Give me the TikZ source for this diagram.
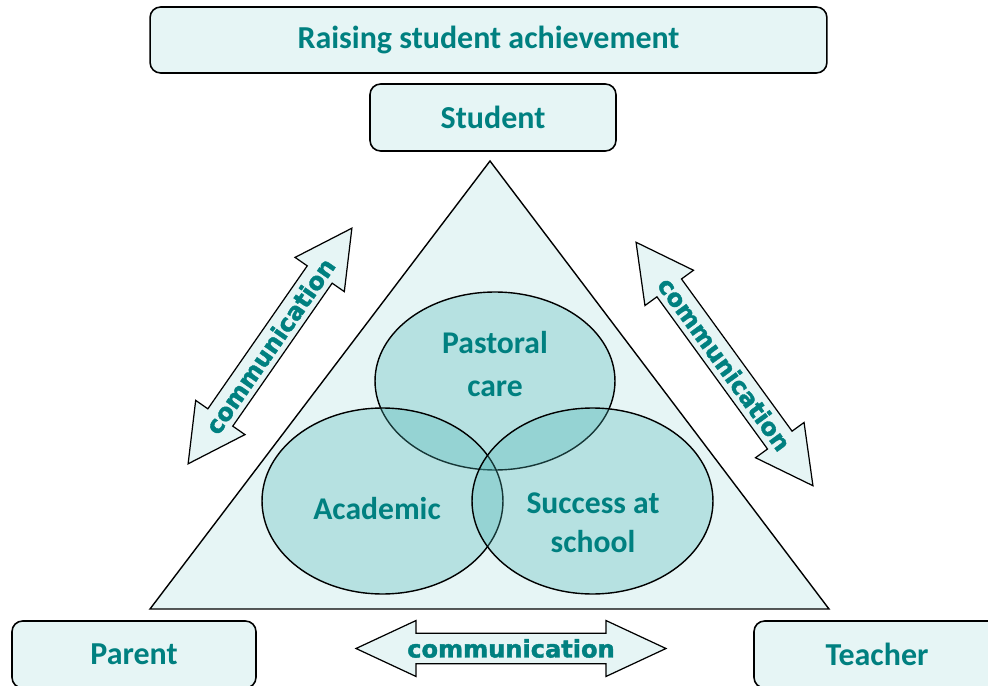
\documentclass[tikz,border=0pt]{standalone}
\usepackage{fontspec}
\setmainfont{Carlito}
\newfontfamily\commfont{DejaVu Sans}[BoldFeatures={FakeBold=1.6}]
\usepackage{tikz}
\usetikzlibrary{shapes}
\definecolor{paleteal}{RGB}{230,245,245}
\definecolor{deepteal}{RGB}{0,128,128}
\definecolor{ringteal}{RGB}{73,181,181}
\tikzstyle{box}=[rectangle, draw, rounded corners=6pt, fill=paleteal, line width=0.9pt, inner sep=0pt, minimum height=1.34cm, text=deepteal, font=\fontsize{18.2}{22}\selectfont\bfseries]
\tikzstyle{ring}=[ellipse, draw, line width=0.8pt, fill=ringteal, fill opacity=0.3, inner sep=0pt]
\tikzstyle{ringtext}=[text=deepteal, align=center, font=\fontsize{18}{22}\selectfont\bfseries]
\tikzstyle{comm}=[double arrow, draw, fill=paleteal, line width=0.7pt, double arrow head extend=0.28cm, double arrow tip angle=56, inner ysep=2.5pt, text=deepteal, font=\commfont\fontsize{13.7}{16}\selectfont\bfseries]

\begin{document}
\begin{tikzpicture}[x=0.02cm, y=-0.02cm]
	\useasboundingbox (0,0) rectangle (988,686);
	\node[box, minimum width=13.54cm, minimum height=1.32cm] (goal) at (488.5,40) {Raising student achievement};
	\node[box, minimum width=4.92cm] (student) at (493,117.5) {Student};
	\node[box, minimum width=4.88cm] (parent) at (134,654.5) {Parent};
	\node[box, minimum width=4.92cm] (teacher) at (877,654.5) {Teacher};
	\draw[line width=0.8pt, fill=paleteal] (490,161) coordinate (apex) -- (829,609) coordinate (corner right) -- (150,609) coordinate (corner left) -- cycle;
	\node[ring, minimum width=4.8cm, minimum height=3.56cm] (pastoral) at (495,381) {};
	\foreach \n/\x in {academic/382.5, success/592.5}{
		\node[ring, minimum width=4.82cm, minimum height=3.72cm] (\n) at (\x,501) {};
	}
	\node[ringtext] (pastoral text) at (495,364) {Pastoral\\[2pt]care};
	\node[ringtext] (academic text) at (377,509) {Academic};
	\node[ringtext] (success text) at (593,523) {Success at\\school};
	\node[comm, minimum height=5.74cm, minimum width=1.2cm, rotate=55.2] (comm left) at (270,346) {communication};
	\node[comm, minimum height=6.02cm, minimum width=1.2cm, rotate=-54] (comm right) at (724.5,364) {communication};
	\node[comm, minimum height=6.2cm, minimum width=1.12cm, double arrow head extend=0.24cm, double arrow tip angle=50] (comm bottom) at (511,648.5) {communication};
\end{tikzpicture}
\end{document}
